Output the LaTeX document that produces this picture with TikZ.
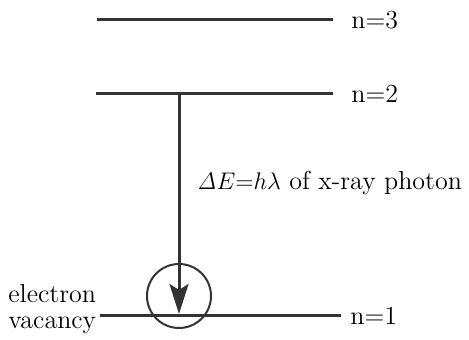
\documentclass[tikz,border=0pt]{standalone}
\usetikzlibrary{positioning,arrows.meta}

\begin{document}
\begin{tikzpicture}[
  x=0.5pt, y=-0.5pt,
  font=\fontsize{13}{14}\selectfont,
  level/.style={line width=1.5pt, draw=black!80},
  lvlabel/.style={anchor=west, inner sep=0pt},
  transition/.style={-{Stealth[length=15pt, width=9.5pt, inset=3pt]}, line width=1.5pt, draw=black!80},
  vacancy/.style={circle, draw=black!80, line width=1pt, minimum size=32pt, inner sep=0pt}
]
\useasboundingbox (0,0) rectangle (469,340);

% Energy levels
\coordinate (n3a) at (97,20);   \coordinate (n3b) at (333,20);
\coordinate (n2a) at (96,94);   \coordinate (n2b) at (333,94);
\coordinate (n1a) at (100,316); \coordinate (n1b) at (341,316);
\draw[level] (n3a) -- (n3b);
\draw[level] (n2a) -- (n2b);
\draw[level] (n1a) -- (n1b);

\node[lvlabel] (l3) at (351,20) {n=3};
\node[lvlabel] (l2) at (351,94) {n=2};
\node[lvlabel] (l1) at (350,316) {n=1};

% Vacancy in the lowest level and the transition into it
\node[vacancy] (hole) at (179,296) {};
\coordinate (top) at (179,94);
\coordinate (tip) at (179,314);
\draw[transition] (top) -- (tip);

\node[lvlabel] (photon) at (197,183) {$\mathit{\Delta}E{=}h\lambda$ of x-ray photon};
\node[lvlabel, align=left] (vac) at (8,309) {electron\\[-1pt]vacancy};

\end{tikzpicture}
\end{document}
